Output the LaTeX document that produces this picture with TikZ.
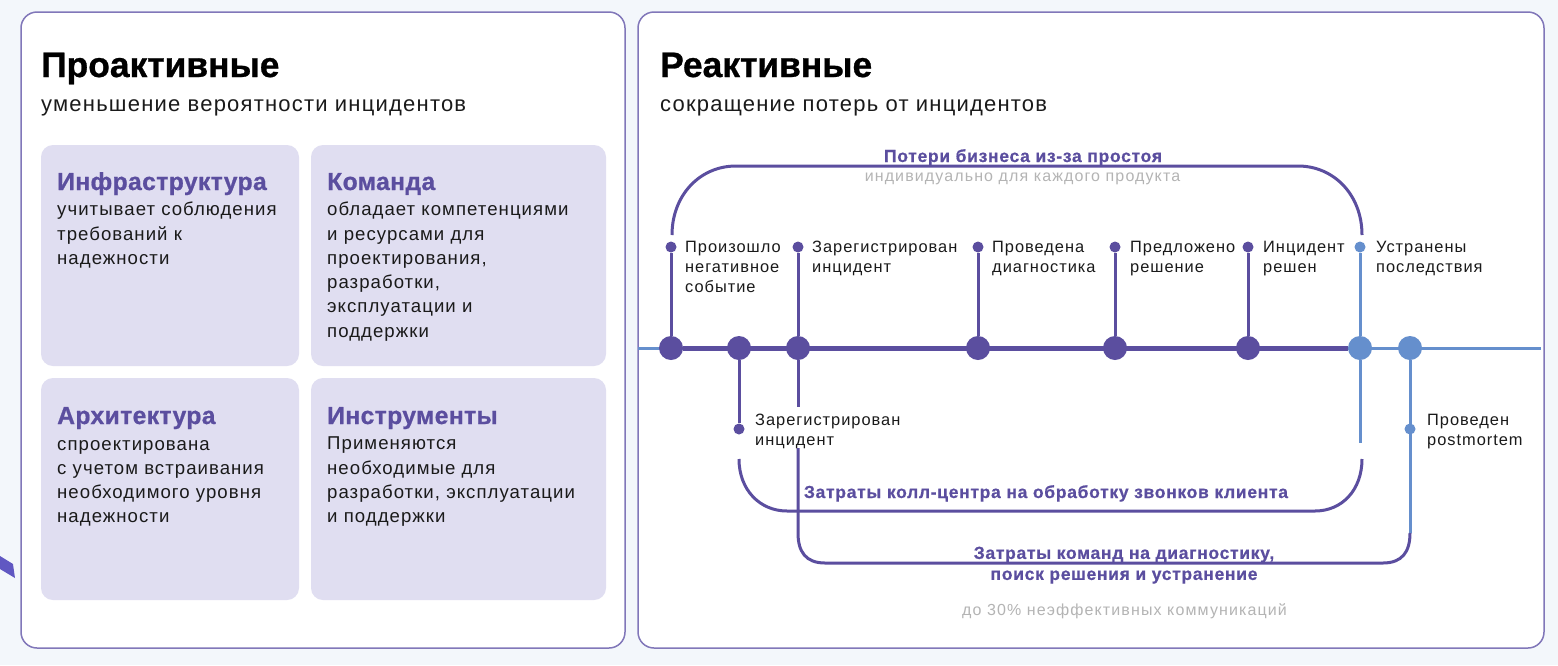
\documentclass[tikz,border=0pt]{standalone}
\usepackage{fontspec}
\setmainfont{Liberation Sans}
\newfontfamily\bodyf[LetterSpace=5.6]{Liberation Sans}
\newfontfamily\subf[LetterSpace=5.5]{Liberation Sans}
\newfontfamily\labf[LetterSpace=6]{Liberation Sans}
\newfontfamily\greyf[LetterSpace=7]{Liberation Sans}
\newfontfamily\titlef[FakeBold=0.8]{Liberation Sans Bold}
\newfontfamily\headf[LetterSpace=1.5,FakeBold=0.8]{Liberation Sans Bold}
\newfontfamily\costf[LetterSpace=4,FakeBold=0.6]{Liberation Sans Bold}
\usetikzlibrary{backgrounds}
\definecolor{bgc}{HTML}{F3F7FB}
\definecolor{edgec}{HTML}{8177B9}
\definecolor{tilec}{HTML}{E0DEF1}
\definecolor{darkp}{HTML}{5B4E9F}
\definecolor{bluep}{HTML}{658FCD}
\definecolor{greyt}{HTML}{B4B4B4}
\definecolor{inkc}{HTML}{1A1A1A}
\tikzset{
  x=1pt,y=-1pt,
  card/.style={draw=edgec,line width=1.5pt,fill=white,rounded corners=16pt},
  tile/.style={fill=tilec,rounded corners=12pt},
  bigtitle/.style={anchor=base west,inner sep=0pt,text=black,font=\fontsize{35.4}{38}\selectfont\titlef},
  subtitle/.style={anchor=base west,inner sep=0pt,text=inkc,font=\fontsize{22}{25}\selectfont\subf},
  tilehead/.style={anchor=base west,inner sep=0pt,text=darkp,font=\fontsize{24.7}{27}\selectfont\headf},
  tilebody/.style={anchor=north west,inner sep=0pt,align=left,text=inkc,font=\fontsize{18.6}{24.25}\selectfont\bodyf},
  steplabel/.style={anchor=north west,inner sep=0pt,align=left,text=inkc,font=\fontsize{16.4}{20}\selectfont\labf},
  costlabel/.style={inner sep=0pt,align=center,anchor=base,text=darkp,font=\fontsize{17.5}{21}\selectfont\costf},
  notelabel/.style={inner sep=0pt,anchor=base,text=greyt,font=\fontsize{16}{18}\selectfont\greyf},
  bigdark/.style={circle,fill=darkp,minimum size=24pt,inner sep=0pt},
  bigblue/.style={circle,fill=bluep,minimum size=24pt,inner sep=0pt},
  smalldark/.style={circle,fill=darkp,minimum size=11pt,inner sep=0pt},
  smallblue/.style={circle,fill=bluep,minimum size=11pt,inner sep=0pt},
  darkline/.style={draw=darkp,line width=3pt},
  blueline/.style={draw=bluep,line width=3pt},
  axisdark/.style={draw=darkp,line width=5pt},
}
\begin{document}
\begin{tikzpicture}
\useasboundingbox (0,0) rectangle (1558,665);
\begin{scope}[on background layer]
\fill[bgc] (0,0) rectangle (1558,665);
\fill[darkp!75!blue!85] (0,556) -- (13,564) -- (15,578) -- (0,569) -- cycle;
\path[card] (21,12) rectangle (625,648);
\path[card] (638,12) rectangle (1544,648);
\end{scope}
% left card
\node[bigtitle] (t1) at (41,77) {Проактивные};
\node[subtitle] (s1) at (41,111) {уменьшение вероятности инцидентов};
\path[tile] (41,145) rectangle (299,366);
\path[tile] (311,145) rectangle (606,366);
\path[tile] (41,378) rectangle (299,600);
\path[tile] (311,378) rectangle (606,600);
\node[tilehead] (h1) at (57,190) {Инфраструктура};
\node[tilebody] (b1) at (57,202) {учитывает соблюдения\\требований к\\надежности};
\node[tilehead] (h2) at (327,190) {Команда};
\node[tilebody] (b2) at (327,202) {обладает компетенциями\\и ресурсами для\\проектирования,\\разработки,\\эксплуатации и\\поддержки};
\node[tilehead] (h3) at (57,424) {Архитектура};
\node[tilebody] (b3) at (57,439.9) {спроектирована\\с учетом встраивания\\необходимого уровня\\надежности};
\node[tilehead] (h4) at (327,424) {Инструменты};
\node[tilebody] (b4) at (327,436.9) {Применяются\\необходимые для\\разработки, эксплуатации\\и поддержки};
% right card
\node[bigtitle] (t2) at (660,77) {Реактивные};
\node[subtitle] (s2) at (660,111) {сокращение потерь от инцидентов};
% timeline markers
\node[bigdark] (m1) at (671,348) {};
\node[bigdark] (m2) at (739,348) {};
\node[bigdark] (m3) at (798,348) {};
\node[bigdark] (m4) at (978,348) {};
\node[bigdark] (m5) at (1115,348) {};
\node[bigdark] (m6) at (1248,348) {};
\node[bigblue] (m7) at (1360,348) {};
\node[bigblue] (m8) at (1410,348) {};
\node[smalldark] (d1) at (671,247) {};
\node[smalldark] (d3) at (798,247) {};
\node[smalldark] (d4) at (978,247) {};
\node[smalldark] (d5) at (1115,247) {};
\node[smalldark] (d6) at (1248,247) {};
\node[smallblue] (d7) at (1360,247) {};
\node[smalldark] (d2) at (739,429) {};
\node[smallblue] (d8) at (1410,429) {};
% free ends
\coordinate (tlstart) at (638,348);
\coordinate (tlend) at (1541,348);
\coordinate (topl) at (672,235);
\coordinate (topr) at (1362,235);
\coordinate (callL) at (739,459);
\coordinate (callR) at (1362,459);
\coordinate (m7end) at (1360,443);
\coordinate (m3gap) at (798,407);
\coordinate (teamstart) at (798,448);
\coordinate (teamend) at (1410,533);
\begin{scope}[on background layer]
\draw[blueline] (tlstart) -- (tlend);
\draw[axisdark] (m1) -- (m7);
\draw[darkline] (d1) -- (m1);
\draw[darkline] (d3) -- (m3);
\draw[darkline] (d4) -- (m4);
\draw[darkline] (d5) -- (m5);
\draw[darkline] (d6) -- (m6);
\draw[blueline] (d7) -- (m7);
\draw[darkline] (m2) -- (d2);
\draw[darkline] (m3) -- (m3gap);
\draw[blueline] (m7) -- (m7end);
\draw[blueline] (m8) -- (teamend);
\draw[darkline] (topl) .. controls (672,195) and (700,166) .. (736,166) -- (1298,166) .. controls (1334,166) and (1362,195) .. (topr);
\draw[darkline] (callL) .. controls (739,490) and (760,511) .. (787,511) -- (1315,511) .. controls (1342,511) and (1362,490) .. (callR);
\draw[darkline] (teamstart) -- (798,533) .. controls (798,552) and (806,563) .. (825,563) -- (1383,563) .. controls (1402,563) and (1410,552) .. (teamend);
\end{scope}
% step labels
\node[steplabel] (l1) at (685,240.6) {Произошло\\негативное\\событие};
\node[steplabel] (l3) at (812,240.6) {Зарегистрирован\\инцидент};
\node[steplabel] (l4) at (992,240.6) {Проведена\\диагностика};
\node[steplabel] (l5) at (1130,240.6) {Предложено\\решение};
\node[steplabel] (l6) at (1263,240.6) {Инцидент\\решен};
\node[steplabel] (l7) at (1376,240.6) {Устранены\\последствия};
\node[steplabel] (l2) at (755,413.6) {Зарегистрирован\\инцидент};
\node[steplabel] (l8) at (1427,413.6) {Проведен\\postmortem};
% cost labels
\node[costlabel] (c1) at (1023,162) {Потери бизнеса из-за простоя};
\node[notelabel] (n1) at (1022.5,181) {индивидуально для каждого продукта};
\node[costlabel] (c2) at (1046,498) {Затраты колл-центра на обработку звонков клиента};
\node[costlabel,anchor=north] (c3) at (1124,546.5) {Затраты команд на диагностику,\\поиск решения и устранение};
\node[notelabel] (n2) at (1124.5,615) {до 30\% неэффективных коммуникаций};
\end{tikzpicture}
\end{document}
